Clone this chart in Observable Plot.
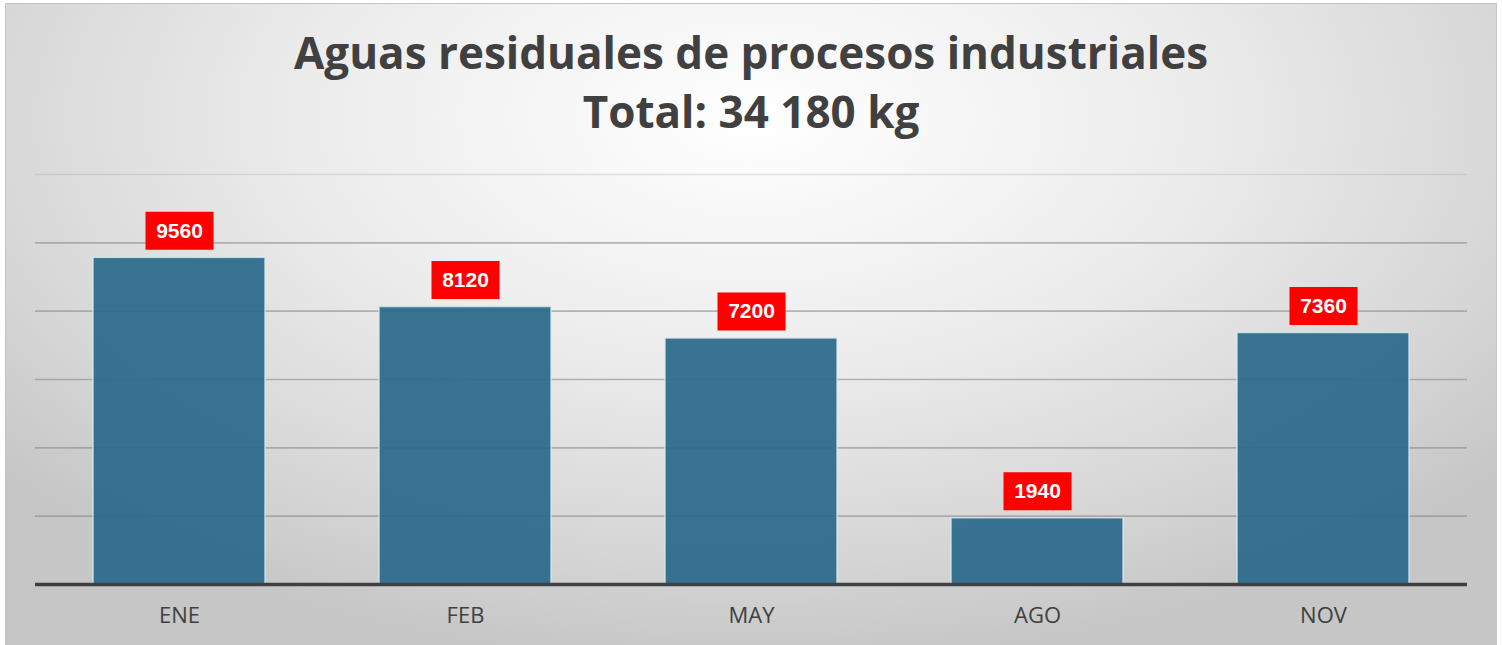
<!DOCTYPE html>
<html>
<head>
<meta charset="utf-8">
<script src="https://cdn.jsdelivr.net/npm/d3@7"></script>
<script src="https://cdn.jsdelivr.net/npm/@observablehq/plot@0.6"></script>
<style>
  html, body { margin: 0; padding: 0; background: #ffffff; }
  #page { position: relative; width: 1502px; height: 645px; overflow: hidden; }
  #frame {
    position: absolute; left: 5px; top: 3px; width: 1490px; height: 641px;
    border: 1px solid #c4c4c4;
    background: radial-gradient(ellipse 66% 85% at 50% 18%, #ffffff 0%, #ececec 45%, #d6d6d6 80%, #c6c6c6 100%);
  }
  #title {
    position: absolute; left: 0; top: 0; width: 1502px; text-align: center;
    font-family: "Open Sans", sans-serif; font-weight: 700; font-size: 44px;
    color: #404040; line-height: 59px; padding-top: 23px;
  }
  #chart { position: absolute; left: 0; top: 140px; }
</style>
</head>
<body>
<div id="page">
  <div id="frame"></div>
  <div id="title">Aguas residuales de procesos industriales<br>Total: 34 180 kg</div>
  <div id="chart"></div>
</div>
<script>
const months = ["ENE", "FEB", "MAY", "AGO", "NOV"];
const values = [9560, 8120, 7200, 1940, 7360];
const yTicks = [0, 2000, 4000, 6000, 8000, 10000, 12000];

const data = months.map((m, i) => ({month: m, value: values[i]}));

// rectangular symbol used as the red label box
const labelBox = {
  draw(context) {
    context.rect(-34, -19, 68, 38);
  }
};

const plot = Plot.plot({
  width: 1502,
  height: 505,
  marginTop: 34,
  marginBottom: 61,
  marginLeft: 35,
  marginRight: 35,
  style: {background: "transparent", fontFamily: "Open Sans, sans-serif"},
  x: {domain: months, paddingInner: 0.4, paddingOuter: 0.2, label: null},
  y: {domain: [0, 12000], axis: null},
  marks: [
    Plot.ruleY(yTicks.filter(t => t > 0), {
      stroke: "#8a8a8a",
      strokeWidth: 1.6,
      strokeOpacity: d => d === 12000 ? 0.22 : 0.6
    }),
    Plot.barY(data, {
      x: "month", y: "value",
      fill: "#2a6a8a", fillOpacity: 0.93,
      stroke: "#d6e8f0", strokeWidth: 1.5, strokeOpacity: 0.8
    }),
    Plot.ruleY([0], {stroke: "#404040", strokeWidth: 3.5}),
    Plot.axisX({tickSize: 0, tickPadding: 23, fontSize: 22, color: "#404040", label: null, fill: "#404040"}),
    Plot.dot(data, {
      x: "month", y: "value", dy: -27,
      symbol: labelBox, fill: "#ff0000", stroke: "none"
    }),
    Plot.text(data, {
      x: "month", y: "value", text: d => String(d.value),
      dy: -27, lineAnchor: "middle", textAnchor: "middle",
      fill: "#ffffff", fontSize: 21, fontWeight: "bold",
      fontFamily: "Liberation Sans, Arial, sans-serif"
    })
  ]
});

document.getElementById("chart").appendChild(plot);
</script>
</body>
</html>
